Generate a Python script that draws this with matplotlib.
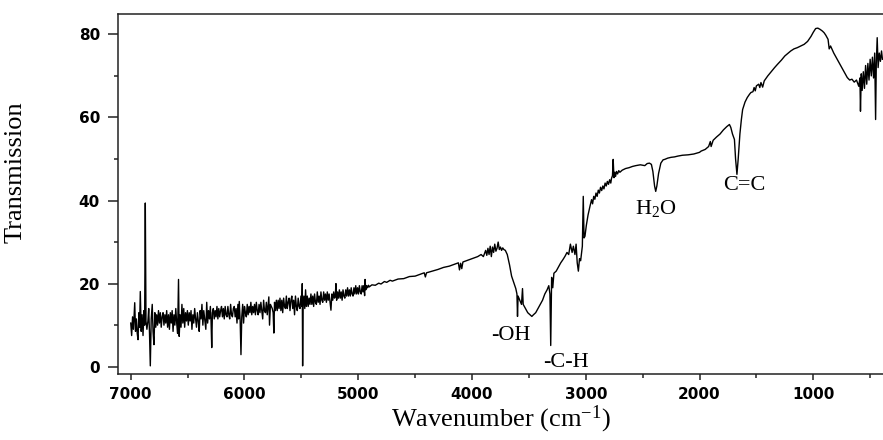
"""
FTIR transmission spectrum with band labels
"""

import numpy as np
from matplotlib import pyplot as plt
from matplotlib.ticker import MultipleLocator

plt.rcParams['mathtext.fontset'] = 'custom'
plt.rcParams['mathtext.rm'] = 'Liberation Serif'
plt.rcParams['mathtext.it'] = 'Liberation Serif'

# (wavenumber cm^-1, transmission), high -> low wavenumber
noisy_part = [
    (7000, 10.5), (6992, 7.5), (6984, 12.0), (6976, 9.0), (6970, 12.5), (6965, 15.4),
    (6958, 8.5), (6950, 11.5), (6943, 8.0), (6936, 6.5), (6928, 13.0), (6922, 9.5),
    (6916, 18.1), (6908, 8.5), (6900, 12.5), (6892, 7.5), (6884, 13.5), (6878, 10.0),
    (6872, 39.4), (6866, 11.0), (6858, 9.0), (6849, 11.0), (6842, 14.0), (6835, 8.0),
    (6828, 0.2), (6820, 11.5), (6811, 15.0), (6804, 8.5), (6796, 5.3), (6788, 13.0),
    (6780, 9.5), (6772, 12.5), (6764, 10.0), (6756, 13.5), (6748, 10.5), (6740, 13.0),
    (6732, 9.5), (6724, 12.0), (6716, 13.0), (6708, 10.0), (6700, 12.5), (6692, 10.5),
    (6684, 13.5), (6676, 9.5), (6668, 12.5), (6660, 9.0), (6652, 13.0), (6644, 10.5),
    (6636, 13.5), (6628, 8.5), (6620, 12.5), (6612, 10.0), (6604, 14.0), (6596, 10.5),
    (6588, 8.0), (6580, 21.0), (6574, 7.3), (6566, 12.5), (6558, 9.5), (6550, 15.0),
    (6542, 10.5), (6534, 14.0), (6526, 9.5), (6518, 13.0), (6510, 11.0), (6502, 13.5),
    (6494, 10.0), (6486, 13.0), (6478, 11.0), (6470, 13.5), (6462, 9.0), (6454, 12.5),
    (6446, 10.5), (6438, 14.0), (6430, 11.5), (6422, 9.5), (6414, 13.0), (6406, 11.0),
    (6398, 8.5), (6390, 13.5), (6382, 11.5), (6374, 15.0), (6366, 10.0), (6358, 13.5),
    (6350, 11.5), (6340, 9.0), (6332, 15.5), (6324, 10.5), (6316, 13.5), (6308, 11.5),
    (6300, 14.5), (6294, 11.0), (6288, 4.6), (6282, 13.0), (6274, 14.0), (6266, 11.5),
    (6258, 13.5), (6250, 12.0), (6242, 14.5), (6234, 11.5), (6226, 14.0), (6218, 12.0),
    (6210, 13.5), (6202, 14.5), (6194, 12.0), (6186, 14.0), (6178, 11.5), (6170, 14.5),
    (6162, 12.5), (6154, 12.0), (6146, 14.5), (6138, 12.5), (6130, 11.5), (6122, 15.0),
    (6114, 12.5), (6106, 12.0), (6098, 14.0), (6090, 14.5), (6082, 12.0), (6074, 14.0),
    (6066, 10.5), (6058, 15.0), (6052, 11.5), (6046, 15.7), (6038, 11.0), (6031, 2.9),
    (6024, 12.0), (6016, 15.0), (6008, 10.5), (6000, 14.5), (5992, 13.0), (5984, 12.0),
    (5976, 15.0), (5968, 12.5), (5960, 14.5), (5952, 13.0), (5944, 15.5), (5936, 12.5),
    (5928, 14.5), (5920, 13.0), (5912, 15.0), (5904, 12.5), (5896, 15.5), (5888, 13.5),
    (5880, 12.5), (5872, 15.0), (5864, 13.0), (5856, 15.5), (5848, 13.5), (5840, 11.5),
    (5832, 16.0), (5824, 13.5), (5816, 13.0), (5808, 15.5), (5800, 12.5), (5792, 15.0),
    (5786, 16.8), (5780, 10.0), (5772, 15.0), (5764, 14.5), (5756, 14.0), (5748, 13.0),
    (5742, 8.1), (5736, 15.5), (5728, 13.5), (5720, 16.0), (5712, 13.5), (5704, 16.0),
    (5696, 14.0), (5688, 16.5), (5680, 13.5), (5672, 16.0), (5664, 13.0), (5656, 16.5),
    (5648, 14.5), (5640, 14.0), (5632, 17.0), (5624, 14.0), (5616, 15.5), (5608, 16.5),
    (5600, 13.5), (5592, 16.0), (5584, 17.0), (5576, 14.0), (5568, 16.0), (5560, 12.5),
    (5552, 17.0), (5544, 14.5), (5536, 13.5), (5528, 16.5), (5520, 14.5), (5512, 14.0),
    (5504, 17.0), (5496, 14.5), (5492, 20.0), (5489, 0.2), (5485, 15.0), (5478, 17.0),
    (5470, 14.0), (5463, 18.5), (5456, 14.5), (5448, 17.0), (5440, 14.5), (5432, 16.5),
    (5424, 15.0), (5416, 17.5), (5408, 15.0), (5400, 17.0), (5392, 14.5), (5384, 17.5),
    (5376, 15.5), (5368, 15.0), (5360, 18.0), (5352, 15.5), (5344, 17.0), (5336, 15.0),
    (5328, 18.0), (5320, 16.0), (5312, 15.5), (5304, 18.0), (5296, 16.0), (5288, 17.5),
    (5280, 15.5), (5272, 18.0), (5264, 16.0), (5256, 17.5), (5248, 15.5), (5240, 13.6),
    (5232, 17.5), (5224, 16.0), (5216, 18.0), (5208, 16.5), (5202, 17.0), (5196, 20.0),
    (5190, 16.0), (5182, 18.0), (5174, 16.5), (5166, 18.5), (5158, 16.5), (5150, 18.0),
    (5142, 16.0), (5134, 18.5), (5126, 17.0), (5118, 16.5), (5110, 18.5), (5102, 17.0),
    (5094, 19.0), (5086, 17.0), (5078, 18.5), (5070, 17.0), (5062, 19.0), (5054, 17.5),
    (5046, 17.0), (5038, 19.0), (5030, 17.5), (5022, 19.5), (5014, 17.5), (5006, 19.0),
    (4998, 17.5), (4990, 19.5), (4982, 18.0), (4974, 17.5), (4966, 19.5), (4958, 18.0),
    (4950, 19.5), (4944, 17.1), (4940, 21.0), (4934, 18.5), (4926, 19.5), (4918, 19.0),
    (4910, 19.6), (4904, 19.2),
]

oh_ch_part = [
    (4880, 19.7), (4850, 19.6), (4820, 20.1), (4800, 19.9), (4770, 20.5), (4750, 20.3),
    (4720, 20.8), (4700, 20.6), (4650, 21.1), (4600, 21.2), (4550, 21.7), (4500, 21.8),
    (4450, 22.3), (4420, 22.6), (4410, 21.6), (4400, 22.6), (4350, 23.0), (4300, 23.4),
    (4250, 23.9), (4200, 24.2), (4150, 24.7), (4120, 25.0), (4110, 23.3), (4100, 24.9),
    (4090, 23.6), (4080, 25.2), (4050, 25.5), (4000, 26.0), (3950, 26.5), (3920, 27.0),
    (3900, 26.5), (3880, 28.0), (3870, 26.8), (3860, 28.5), (3850, 27.0), (3840, 29.0),
    (3830, 26.5), (3820, 28.8), (3810, 27.5), (3800, 29.5), (3790, 27.8), (3780, 28.5),
    (3770, 30.0), (3760, 28.2), (3750, 28.8), (3740, 28.0), (3730, 28.6), (3720, 28.2),
    (3707, 28.0), (3690, 27.0), (3670, 24.5), (3652, 21.8), (3630, 20.0), (3615, 18.8),
    (3605, 17.5), (3600, 12.1), (3595, 17.0), (3580, 16.0), (3565, 15.0), (3556, 18.8),
    (3550, 15.0), (3530, 14.0), (3510, 13.0), (3490, 12.5), (3474, 12.1), (3460, 12.5),
    (3440, 13.0), (3420, 14.0), (3400, 15.0), (3380, 16.0), (3360, 17.5), (3340, 18.5),
    (3325, 19.5), (3315, 17.5), (3308, 5.1), (3300, 21.5), (3290, 19.0), (3280, 22.5),
    (3260, 23.0), (3240, 24.0), (3220, 25.0), (3200, 25.8), (3182, 26.6), (3165, 27.5),
    (3150, 27.0), (3135, 29.5), (3120, 27.5), (3109, 29.0), (3095, 27.0), (3085, 29.5),
    (3075, 25.0), (3065, 23.0), (3055, 26.0), (3045, 25.5), (3030, 29.0), (3022, 41.0),
    (3015, 31.0), (3007, 31.4), (2995, 34.0), (2980, 36.5), (2963, 38.6), (2949, 40.2),
    (2940, 39.2), (2930, 41.0), (2920, 40.3), (2910, 41.8), (2900, 41.0), (2890, 42.5),
    (2880, 41.8), (2870, 43.2), (2860, 42.4), (2850, 43.5), (2840, 42.8), (2830, 44.2),
    (2820, 43.5), (2810, 44.6), (2800, 43.9), (2790, 45.0), (2780, 44.2), (2774, 45.3),
    (2765, 46.0), (2759, 49.9), (2752, 45.5), (2745, 46.8), (2738, 45.8), (2730, 47.0),
    (2720, 46.4), (2710, 47.2), (2700, 46.8),
]

fingerprint_part = [
    (2680, 47.3), (2650, 47.7), (2620, 47.9), (2590, 48.2), (2560, 48.4), (2520, 48.6),
    (2481, 48.4), (2460, 48.9), (2440, 49.0), (2423, 48.7), (2410, 47.0), (2395, 43.5),
    (2385, 42.2), (2375, 43.5), (2360, 46.5), (2340, 49.0), (2320, 49.8), (2306, 49.9),
    (2280, 50.2), (2250, 50.4), (2220, 50.5), (2190, 50.7), (2150, 50.9), (2100, 51.0),
    (2050, 51.2), (2000, 51.6), (1986, 51.9), (1950, 52.3), (1920, 53.0), (1905, 54.2),
    (1898, 53.0), (1880, 54.5), (1850, 55.3), (1820, 56.0), (1790, 57.0), (1760, 57.8),
    (1737, 58.3), (1725, 57.6), (1710, 56.0), (1693, 54.7), (1683, 50.0), (1671, 46.3),
    (1660, 50.0), (1645, 56.0), (1632, 59.5), (1621, 61.9), (1600, 63.7), (1580, 64.8),
    (1560, 65.6), (1548, 66.0), (1530, 66.2), (1520, 67.2), (1510, 66.4), (1500, 67.6),
    (1480, 68.0), (1470, 67.2), (1460, 68.4), (1445, 67.3), (1431, 68.8), (1400, 70.0),
    (1370, 71.0), (1340, 72.0), (1314, 72.8), (1280, 73.8), (1250, 74.8), (1220, 75.5),
    (1198, 76.0), (1170, 76.5), (1140, 76.8), (1110, 77.2), (1080, 77.6), (1050, 78.3),
    (1020, 79.5), (1000, 80.5), (979, 81.4), (960, 81.5), (940, 81.2), (920, 80.8),
    (905, 80.4), (890, 79.8), (870, 78.8), (860, 76.5), (848, 77.2), (820, 75.5),
    (790, 74.0), (760, 72.5), (730, 71.0), (701, 69.6), (680, 69.0), (660, 69.2),
    (640, 68.5), (620, 69.0), (600, 67.5), (590, 69.5), (585, 61.5), (578, 70.5),
    (570, 66.5), (560, 71.0), (550, 67.0), (540, 72.5), (530, 68.0), (520, 73.0),
    (510, 69.0), (500, 74.0), (490, 70.0), (480, 74.5), (470, 69.5), (460, 75.5),
    (452, 59.5), (446, 73.0), (438, 79.2), (430, 72.0), (420, 75.5), (410, 73.5),
    (400, 76.0), (392, 74.0),
]

# band labels: text, wavenumber, transmission
band_labels = ['-OH', '-C-H', 'H$_2$O', 'C=C']
band_x = [3655, 3170, 2385, 1610]
band_y = [7.5, 1.0, 38.0, 43.5]

x_ticks = [7000, 6000, 5000, 4000, 3000, 2000, 1000]
y_ticks = [0, 20, 40, 60, 80]


if __name__ == '__main__':
    wn, tr = zip(*(noisy_part + oh_ch_part + fingerprint_part))
    wn = np.array(wn)
    tr = np.array(tr)

    fig = plt.figure(figsize=(8.83, 4.40), dpi=100)
    ax = fig.add_axes([118 / 883, 1 - 374 / 440, 1 - 118 / 883, (374 - 14) / 440])

    ax.plot(wn, tr, color='black', lw=1.0)

    ax.set_xlim(7112, 387)
    ax.set_ylim(-1.76, 84.9)
    ax.set_xticks(x_ticks)
    ax.set_yticks(y_ticks)
    ax.xaxis.set_minor_locator(MultipleLocator(500))
    ax.yaxis.set_minor_locator(MultipleLocator(10))

    for side in ['left', 'top', 'bottom']:
        ax.spines[side].set_linewidth(1.1)
        ax.spines[side].set_color('#222222')
    ax.spines['right'].set_visible(False)

    ax.tick_params(axis='both', which='major', direction='out', width=1.1,
                   labelsize=11, color='#222222')
    ax.tick_params(axis='x', which='major', length=4.5, pad=5)
    ax.tick_params(axis='y', which='major', length=7, pad=6)
    ax.tick_params(axis='both', which='minor', direction='out', width=1.1, length=3,
                   color='#222222')
    for lbl in ax.get_xticklabels() + ax.get_yticklabels():
        lbl.set_fontweight('bold')

    ax.set_xlabel('Wavenumber (cm$^{-1}$)', family='Liberation Serif', fontsize=19,
                  labelpad=1)
    ax.set_ylabel('Transmission', family='Liberation Serif', fontsize=19)
    ax.yaxis.set_label_coords(-0.119, 0.56)

    for label, x, y in zip(band_labels, band_x, band_y):
        ax.text(x, y, label, family='Liberation Serif', fontsize=16,
                ha='center', va='center')

    fig.savefig('out.png', dpi=100)
